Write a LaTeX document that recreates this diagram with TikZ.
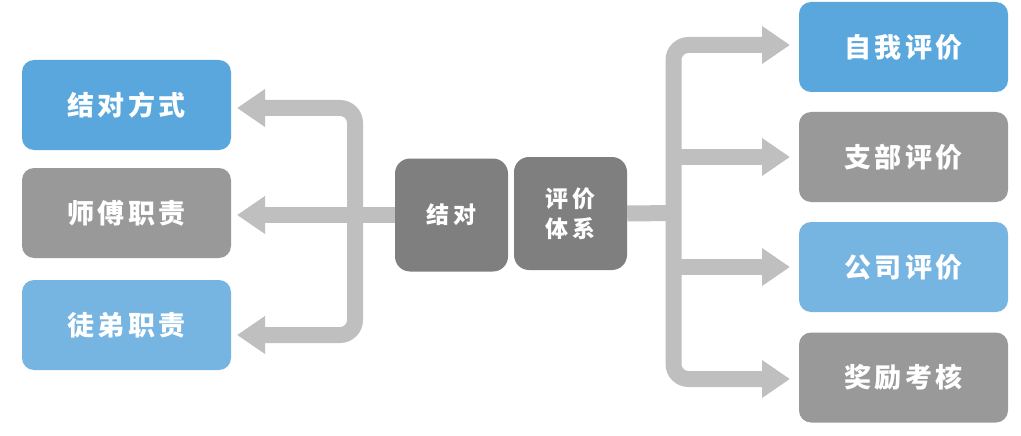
\documentclass[tikz,border=0pt]{standalone}
\usepackage{fontspec}
\newfontfamily\cjk{Noto Sans CJK SC}[LetterSpace=12]
\newfontfamily\cjkc{Noto Sans CJK SC}[LetterSpace=20]
\usetikzlibrary{arrows.meta}
\definecolor{blueA}{HTML}{5AA7DD}
\definecolor{blueB}{HTML}{76B4E1}
\definecolor{grayA}{HTML}{999999}
\definecolor{grayC}{HTML}{7F7F7F}
\definecolor{lineg}{HTML}{BFBFBF}
\begin{document}
\begin{tikzpicture}[x=1pt,y=-1pt,
  box/.style={rounded corners=12pt, minimum width=209pt, minimum height=90pt, inner sep=0pt, text=white, font=\cjk\bfseries\fontsize{27}{30}\selectfont},
  cbox/.style={fill=grayC, rounded corners=15pt, minimum width=113pt, minimum height=113pt, inner sep=0pt, text=white, align=center, font=\cjkc\bfseries\fontsize{23}{30}\selectfont},
  bar/.style={draw=lineg, line width=16pt},
  conn/.style={bar, rounded corners=15pt, -{Triangle[width=36pt,length=28pt]}}]
\useasboundingbox (0,0) rectangle (1021,436);
% left boxes
\node[box, fill=blueA] (l1) at (126.5,105) {结对方式};
\node[box, fill=grayA] (l2) at (126.5,213) {师傅职责};
\node[box, fill=blueB] (l3) at (126.5,325) {徒弟职责};
% center boxes
\node[cbox] (c1) at (451.5,215) {结对};
\node[cbox] (c2) at (570.5,213.5) {评价\\体系};
% right boxes
\node[box, fill=blueA] (r1) at (903.5,47) {自我评价};
\node[box, fill=grayA] (r2) at (903.5,157) {支部评价};
\node[box, fill=blueB] (r3) at (903.5,267) {公司评价};
\node[box, fill=grayA] (r4) at (903.5,377.5) {奖励考核};
% junctions and tips
\coordinate (jl) at (355,215);
\coordinate (jr) at (673.5,213);
\coordinate (tl1) at (237,108);
\coordinate (tl2) at (237,215);
\coordinate (tl3) at (237,335);
\coordinate (tr1) at (790,45);
\coordinate (tr2) at (790,157);
\coordinate (tr3) at (790,267);
\coordinate (tr4) at (790,379);
\draw[bar] (c1.west) -- (jl);
\draw[conn] (jl) -- (tl2);
\draw[conn] (jl) |- (tl1);
\draw[conn] (jl) |- (tl3);
\draw[bar] (c2.east) -- (jr);
\draw[conn] (jr) |- (tr1);
\draw[conn] (jr |- tr2) -- (tr2);
\draw[conn] (jr |- tr3) -- (tr3);
\draw[conn] (jr) |- (tr4);
\end{tikzpicture}
\end{document}
